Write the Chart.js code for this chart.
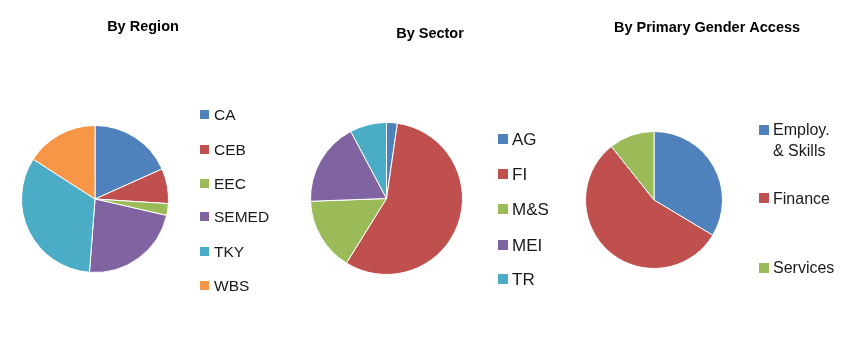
<!DOCTYPE html>
<html>
<head>
<meta charset="utf-8">
<script src="https://cdn.jsdelivr.net/npm/chart.js@4.4.1/dist/chart.umd.min.js"></script>
<style>
  html, body { margin: 0; padding: 0; background: #fff; }
  #wrap { position: relative; width: 850px; height: 342px; overflow: hidden; }
  canvas { position: absolute; top: 0; }
</style>
</head>
<body>
<div id="wrap">
  <canvas id="c1" width="290" height="342" style="left:0px"></canvas>
  <canvas id="c2" width="270" height="342" style="left:290px"></canvas>
  <canvas id="c3" width="290" height="342" style="left:560px"></canvas>
</div>
<script>
// ---- data ----
const regionTitle = 'By Region';
const regionLabels = ['CA', 'CEB', 'EEC', 'SEMED', 'TKY', 'WBS'];
const regionValues = [18.3, 7.7, 2.6, 22.6, 32.9, 15.9];

const sectorTitle = 'By Sector';
const sectorLabels = ['AG', 'FI', 'M&S', 'MEI', 'TR'];
const sectorValues = [2.3, 56.6, 15.6, 17.8, 7.8];

const genderTitle = 'By Primary Gender Access';
const genderLabels = ['Employ.\n& Skills', 'Finance', 'Services'];
const genderValues = [33.6, 55.7, 10.7];

const regionColors = ['#4F81BD', '#C0504D', '#9BBB59', '#8064A2', '#4BACC6', '#F79646'];
const sectorColors = ['#4F81BD', '#C0504D', '#9BBB59', '#8064A2', '#4BACC6'];
const genderColors = ['#4F81BD', '#C0504D', '#9BBB59'];

const FONT = '"Liberation Sans", Arial, sans-serif';

// ---- decoration plugin: title + legend drawn from chart data ----
const decorPlugin = {
  id: 'decor',
  afterDraw(chart, args, opts) {
    const ctx = chart.ctx;
    ctx.save();
    // title
    ctx.font = 'bold 14.5px ' + FONT;
    ctx.fillStyle = '#000';
    ctx.textAlign = 'center';
    ctx.textBaseline = 'alphabetic';
    ctx.fillText(opts.title, opts.titleX, opts.titleY + 14.5 * 0.716 / 2);
    // legend
    const labels = chart.data.labels;
    const colors = chart.data.datasets[0].backgroundColor;
    ctx.font = opts.fontSize + 'px ' + FONT;
    ctx.textAlign = 'left';
    const capHalf = opts.fontSize * 0.716 / 2;
    labels.forEach((lab, i) => {
      const y = opts.rows[i];
      const s = opts.box;
      ctx.fillStyle = colors[i];
      ctx.fillRect(opts.boxX, Math.round(y - s / 2), s, s);
      ctx.fillStyle = '#1a1a1a';
      const lines = String(lab).split('\n');
      lines.forEach((ln, k) => {
        ctx.fillText(ln, opts.textX, y + capHalf + k * opts.lineH);
      });
    });
    ctx.restore();
  }
};

function makePie(id, labels, values, colors, pad, decor) {
  return new Chart(document.getElementById(id), {
    type: 'pie',
    data: {
      labels: labels,
      datasets: [{
        data: values,
        backgroundColor: colors,
        borderColor: '#ffffff',
        borderWidth: 1
      }]
    },
    options: {
      responsive: false,
      animation: false,
      devicePixelRatio: 1,
      layout: { padding: pad },
      plugins: {
        legend: { display: false },
        title: { display: false },
        tooltip: { enabled: false },
        decor: decor
      }
    },
    plugins: [decorPlugin]
  });
}

makePie('c1', regionLabels, regionValues, regionColors,
  { left: 21, top: 125, right: 121, bottom: 69 },
  { title: regionTitle, titleX: 143, titleY: 26,
    fontSize: 15.5, boxX: 200, box: 9, textX: 214, lineH: 21,
    rows: [114.5, 149, 183, 216, 251, 285] });

makePie('c2', sectorLabels, sectorValues, sectorColors,
  { left: 20, top: 122, right: 97, bottom: 67 },
  { title: sectorTitle, titleX: 140, titleY: 33,
    fontSize: 17, boxX: 208, box: 10, textX: 222, lineH: 21,
    rows: [138.5, 174, 209, 244.5, 279] });

makePie('c3', genderLabels, genderValues, genderColors,
  { left: 25, top: 131, right: 127, bottom: 73 },
  { title: genderTitle, titleX: 147, titleY: 27,
    fontSize: 16, boxX: 199, box: 10, textX: 213, lineH: 21,
    rows: [129.5, 198, 267.5] });
</script>
</body>
</html>
